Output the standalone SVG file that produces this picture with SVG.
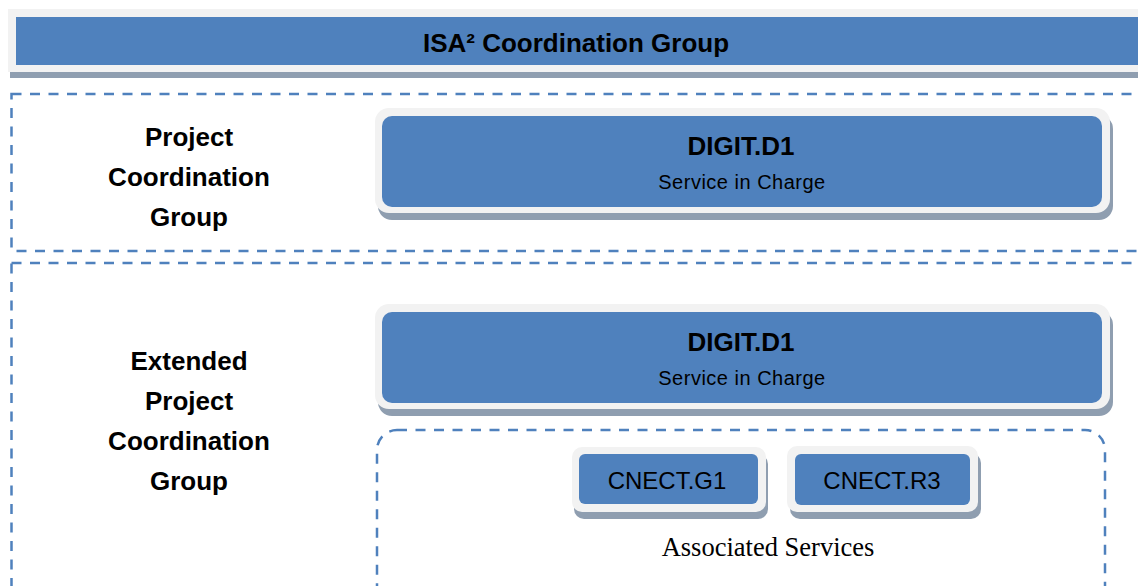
<svg xmlns="http://www.w3.org/2000/svg" width="1138" height="586" viewBox="0 0 1138 586">
<style>
.sh{fill:#8f9eb0}
.ol{fill:#f2f2f2}
.bl{fill:#4f81bd}
.dash{fill:none;stroke:#4f81bd;stroke-width:2.5;stroke-dasharray:10 8.5}
.hb{font-family:"Liberation Sans",Arial,sans-serif;font-weight:bold;font-size:26px;fill:#000;text-anchor:middle}
.rg{font-family:"Liberation Sans",Arial,sans-serif;font-size:24px;fill:#000;text-anchor:middle}
.sm{font-family:"Liberation Sans",Arial,sans-serif;font-size:20px;letter-spacing:0.5px;fill:#000;text-anchor:middle}
.sf{font-family:"Liberation Serif","Times New Roman",serif;font-size:26.5px;fill:#000;text-anchor:middle}
</style>
<rect width="1138" height="586" fill="#ffffff"/>

<g id="isa-coordination-group">
<rect class="sh" x="10" y="15" width="1140" height="63"/>
<rect class="ol" x="8" y="9" width="1140" height="63"/>
<rect class="bl" x="16" y="17" width="1130" height="48"/>
<text class="hb" x="576" y="52">ISA² Coordination Group</text>
</g>

<g id="project-coordination-section">
<rect class="dash" x="11.5" y="94" width="1150" height="157"/>
<text class="hb" x="189" y="146">Project</text>
<text class="hb" x="189" y="186">Coordination</text>
<text class="hb" x="189" y="226">Group</text>
</g>

<g id="digit-d1-pcg">
<rect class="sh" x="378" y="115" width="735" height="105" rx="14"/>
<rect class="ol" x="375" y="108" width="735" height="105" rx="14"/>
<rect class="bl" x="382" y="116" width="720" height="91" rx="10"/>
<text class="hb" x="741" y="155">DIGIT.D1</text>
<text class="sm" x="742" y="189">Service in Charge</text>
</g>

<g id="extended-project-coordination-section">
<rect class="dash" x="11.5" y="263" width="1150" height="400"/>
<text class="hb" x="189" y="370">Extended</text>
<text class="hb" x="189" y="410">Project</text>
<text class="hb" x="189" y="450">Coordination</text>
<text class="hb" x="189" y="490">Group</text>
</g>

<g id="digit-d1-epcg">
<rect class="sh" x="378" y="311" width="735" height="105" rx="14"/>
<rect class="ol" x="375" y="304" width="735" height="105" rx="14"/>
<rect class="bl" x="382" y="312" width="720" height="91" rx="10"/>
<text class="hb" x="741" y="351">DIGIT.D1</text>
<text class="sm" x="742" y="385">Service in Charge</text>
</g>

<g id="associated-services">
<rect class="dash" x="377" y="430" width="728" height="200" rx="20"/>
<text class="sf" x="768" y="556">Associated Services</text>
</g>

<g id="cnect-g1">
<rect class="sh" x="574" y="454" width="194" height="65" rx="10"/>
<rect class="ol" x="572" y="447" width="194" height="65" rx="10"/>
<rect class="bl" x="579" y="454" width="179" height="50" rx="6"/>
<text class="rg" x="667" y="489">CNECT.G1</text>
</g>

<g id="cnect-r3">
<rect class="sh" x="790" y="453" width="191" height="66" rx="10"/>
<rect class="ol" x="787" y="446" width="191" height="66" rx="10"/>
<rect class="bl" x="795" y="454" width="175" height="51" rx="6"/>
<text class="rg" x="882" y="489">CNECT.R3</text>
</g>

<g id="connectors"></g>
</svg>
